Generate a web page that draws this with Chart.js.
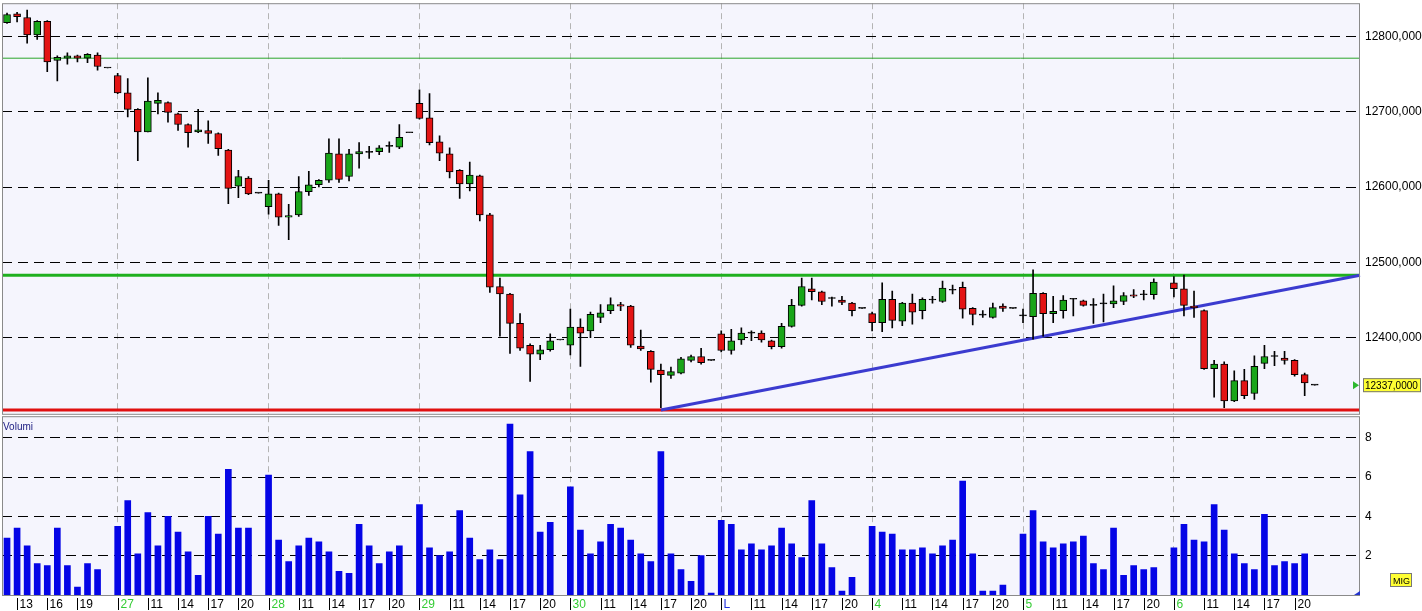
<!DOCTYPE html>
<html><head><meta charset="utf-8">
<script src="https://cdn.jsdelivr.net/npm/chart.js@4.4.0/dist/chart.umd.min.js"></script>
<style>
html,body{margin:0;padding:0;background:#fff;width:1422px;height:611px;overflow:hidden;position:relative}
canvas{position:absolute;left:0}
#p{top:-9px}#v{top:404px}
</style></head><body>
<canvas id="p" width="1422" height="435"></canvas>
<canvas id="v" width="1422" height="207"></canvas>
<script>
// ---- data ----
const openV=[12818,12830,12825,12802,12820,12768,12771,12774,12771,12775,12758,
12748,12725,12703,12673,12711,12712,12697,12683,12673,12675,12671,12649,12601,12612,12592,
12574,12591,12560,12563,12594,12603,12609,12644,12614,12644,12646,12647,12654,12653,12672,
12711,12692,12660,12644,12622,12604,12615,12563,12468,12458,12419,12390,12378,12384,12397,
12390,12414,12409,12427,12436,12444,12442,12389,12382,12357,12350,12353,12370,12375,12370,
12405,12383,12397,12406,12406,12396,12388,12415,12443,12465,12461,12452,12450,12446,12439,
12432,12420,12451,12422,12446,12436,12450,12448,12463,12467,12439,12430,12427,12442,12439,
12429,12428,12459,12432,12436,12451,12449,12443,12445,12445,12448,12457,12457,12457,null,
12473,12465,12442,12436,12359,12365,12316,12343,12326,12366,12375,12373,12370,12351,12337];
const highV=[12831,12832,12835,12821,12821,12774,12778,12775,12777,12778,12758,
12751,12744,12704,12745,12725,12713,12698,12684,12703,12688,12672,12650,12622,12614,12592,
12609,12592,12577,12614,12621,12610,12664,12664,12650,12659,12654,12655,12660,12683,12672,
12729,12724,12668,12652,12623,12633,12616,12565,12479,12459,12432,12392,12390,12405,12397,
12438,12425,12434,12444,12453,12447,12443,12410,12383,12365,12361,12374,12377,12386,12370,
12409,12411,12413,12409,12409,12397,12419,12451,12479,12479,12462,12454,12455,12447,12439,
12434,12473,12462,12447,12458,12453,12455,12475,12470,12474,12440,12436,12446,12445,12439,
12438,12490,12460,12455,12456,12452,12450,12452,12458,12469,12460,12464,12463,12478,null,
12481,12483,12462,12437,12370,12368,12356,12358,12376,12390,12382,12382,12371,12353,12337];
const lowV=[12817,12819,12791,12796,12753,12741,12763,12766,12765,12755,12758,
12724,12693,12635,12673,12697,12686,12675,12653,12672,12658,12642,12578,12586,12590,12592,
12564,12549,12530,12561,12589,12600,12606,12606,12608,12625,12638,12643,12646,12651,12672,
12690,12656,12635,12612,12585,12595,12555,12460,12402,12379,12383,12342,12371,12382,12397,
12377,12362,12400,12420,12432,12436,12387,12383,12341,12307,12346,12352,12368,12365,12370,
12381,12378,12391,12396,12394,12385,12386,12414,12442,12450,12444,12442,12444,12429,12439,
12409,12408,12413,12416,12418,12425,12446,12447,12458,12426,12417,12427,12426,12435,12439,
12420,12398,12402,12420,12426,12429,12442,12419,12421,12440,12444,12453,12450,12451,null,
12454,12429,12427,12358,12321,12307,12315,12319,12318,12359,12363,12365,12349,12323,12337];
const closeV=[12829,12826,12802,12820,12766,12772,12774,12771,12776,12760,12758,
12725,12703,12673,12714,12715,12699,12683,12672,12676,12671,12651,12598,12614,12591,12592,
12591,12560,12562,12594,12603,12609,12645,12610,12644,12647,12646,12652,12654,12666,12672,
12691,12659,12645,12620,12604,12616,12563,12467,12458,12419,12386,12378,12384,12396,12397,
12414,12406,12431,12433,12444,12442,12390,12385,12358,12351,12355,12372,12375,12367,12370,
12383,12396,12406,12406,12397,12388,12415,12443,12468,12461,12448,12452,12447,12436,12439,
12420,12451,12423,12446,12434,12451,12450,12466,12463,12438,12431,12430,12440,12439,12439,
12429,12459,12432,12435,12450,12451,12443,12443,12445,12449,12456,12455,12457,12474,null,
12465,12443,12440,12359,12365,12316,12343,12323,12362,12375,12375,12370,12351,12340,12337];
const volumeV=[2.9,3.4,2.5,1.6,1.5,3.4,1.5,0.4,1.6,1.3,null,
3.5,4.8,2.1,4.2,2.5,4.0,3.2,2.2,1.0,4.0,3.1,6.4,3.4,3.4,null,
6.1,2.8,1.7,2.5,2.9,2.7,2.2,1.2,1.1,3.6,2.5,1.6,2.2,2.5,null,
4.6,2.4,2.0,2.2,4.3,2.9,1.8,2.3,1.8,8.7,5.1,7.3,3.2,3.7,null,
5.5,3.3,2.1,2.7,3.6,3.4,2.8,2.1,1.7,7.3,2.1,1.3,0.7,2.0,0.1,
3.8,3.6,2.3,2.6,2.3,2.5,3.4,2.6,1.9,4.8,2.6,1.4,0.2,0.9,null,
3.5,3.2,3.1,2.3,2.3,2.4,2.1,2.5,2.8,5.8,2.1,0.2,0.2,0.5,null,
3.1,4.3,2.7,2.4,2.6,2.7,3.0,1.6,1.3,3.4,1.0,1.5,1.3,1.4,null,
2.4,3.6,2.8,2.7,4.6,3.3,2.1,1.6,1.3,4.1,1.5,1.7,1.6,2.1,null];
const dayNames=['27','28','29','30','L','4','5','6'];
const firstDayHours=['13','16','19'];
const hourLabels=['11','14','17','20'];
const priceTicks=[12400,12500,12600,12700,12800];
const volumeTicks=[2,4,6,8];
const supportLevel=12304, resistanceLevel=12483, thinLevel=12771, lastPrice=12337;
const trendStartSlot=65;

// ---- derived ----
const NSLOTS=135;
const labels=Array.from({length:NSLOTS},(_,i)=>String(i));
const dayStarts=dayNames.map((_,d)=>11+15*d);
const tickLabels=[];
firstDayHours.forEach((h,k)=>tickLabels.push({i:1+3*k,t:h,c:'#000'}));
dayNames.forEach((d,k)=>{const s=dayStarts[k];
 tickLabels.push({i:s,t:d,c:d==='L'?'#2233dd':'#33cc33'});
 hourLabels.forEach((h,j)=>tickLabels.push({i:s+3+3*j,t:h,c:'#000'}));});
const GREEN='#19a519',RED='#e31414',DOJI='#000';
const bodyCol=openV.map((o,i)=>o==null?'rgba(0,0,0,0)':closeV[i]>o?GREEN:closeV[i]<o?RED:DOJI);
const fmt=v=>v.toFixed(4).replace('.',',');
const FONT='Liberation Sans';

const areaBg={id:'areaBg',beforeDraw(c){const a=c.chartArea,x=c.ctx;x.save();x.fillStyle='#f5f5fd';x.fillRect(a.left,a.top,a.right-a.left,a.bottom-a.top);x.restore();},
 afterDraw(c){const a=c.chartArea,x=c.ctx;x.save();x.strokeStyle='#8a8a8a';x.lineWidth=1;x.strokeRect(a.left+0.5,a.top+0.5,a.right-a.left-1,a.bottom-a.top);x.restore();}};
const xGrid={offset:false,color:ctx=>dayStarts.includes(ctx.index)?'#b4b4b4':'rgba(0,0,0,0)',lineWidth:1,drawTicks:false};

const levels={id:'levels',beforeDatasetsDraw(c){const x=c.ctx,a=c.chartArea,ys=c.scales.y,xs=c.scales.x;x.save();
 const hl=(v,col,w)=>{const y=ys.getPixelForValue(v);x.strokeStyle=col;x.lineWidth=w;x.beginPath();x.moveTo(a.left,y);x.lineTo(a.right,y);x.stroke();};
 hl(thinLevel,'#2aa52a',1);hl(resistanceLevel,'#1fb01f',3);hl(supportLevel,'#e01010',3);
 x.strokeStyle='#3b3bcf';x.lineWidth=3;x.beginPath();x.moveTo(xs.getPixelForValue(trendStartSlot),ys.getPixelForValue(supportLevel));x.lineTo(a.right,ys.getPixelForValue(resistanceLevel));x.stroke();
 x.restore();},
 afterDraw(c){const x=c.ctx,a=c.chartArea,y=c.scales.y.getPixelForValue(lastPrice);x.save();
 x.fillStyle='#2db82d';x.beginPath();x.moveTo(a.right-7,y-4);x.lineTo(a.right-1,y);x.lineTo(a.right-7,y+4);x.fill();
 x.fillStyle='#ffff33';x.fillRect(a.right+3,y-7,58,14);x.strokeStyle='#777';x.strokeRect(a.right+3.5,y-6.5,57,13);
 x.fillStyle='#000';x.font='10px "'+FONT+'"';x.textBaseline='middle';x.fillText(fmt(lastPrice),a.right+5,y+1);x.restore();}};

new Chart(document.getElementById('p'),{type:'bar',
 data:{labels,datasets:[
  {data:openV.map((o,i)=>o==null?null:[lowV[i],highV[i]]),backgroundColor:'#000',barThickness:1,grouped:false,order:2},
  {data:openV.map((o,i)=>o==null?null:[o,closeV[i]]),backgroundColor:bodyCol,borderColor:'#000',borderWidth:1,borderSkipped:false,barThickness:7,minBarLength:1,grouped:false,order:1}]},
 options:{responsive:false,animation:false,devicePixelRatio:1,layout:{padding:{left:2,top:3,bottom:2,right:0}},
  plugins:{legend:{display:false},tooltip:{enabled:false}},
  scales:{x:{offset:true,grid:xGrid,border:{display:false,dash:[6,4]},ticks:{display:false}},
   y:{position:'right',min:12299,max:12844,afterBuildTicks:s=>{s.ticks=priceTicks.map(v=>({value:v}));},afterFit:s=>{s.width=62;},
    grid:{color:'#000',drawTicks:false},border:{display:false,dash:[10,6]},
    ticks:{padding:5,color:'#000',font:{family:FONT,size:12},callback:v=>fmt(v)}}}},
 plugins:[areaBg,levels]});

const volExtras={id:'volExtras',afterDraw(c){const x=c.ctx,a=c.chartArea,xs=c.scales.x;x.save();
 x.font='10px "'+FONT+'"';x.fillStyle='#1a1a80';x.textBaseline='top';x.fillText('Volumi',a.left+1,a.top+6);
 x.font='12px "'+FONT+'"';x.textBaseline='alphabetic';
 tickLabels.forEach(t=>{const px=Math.round(xs.getPixelForValue(t.i))+0.5;x.strokeStyle='#000';x.lineWidth=1;x.beginPath();x.moveTo(px,a.bottom+3);x.lineTo(px,a.bottom+15);x.stroke();
  x.fillStyle=t.c;x.fillText(t.t,px+2,a.bottom+13);});
 x.fillStyle='#ffff33';x.fillRect(a.right+30,a.bottom-22,22,14);x.strokeStyle='#777';x.strokeRect(a.right+30.5,a.bottom-21.5,21,13);
 x.fillStyle='#000';x.font='9px "'+FONT+'"';x.fillText('MIG',a.right+33,a.bottom-11);
 x.fillStyle='#2233cc';x.beginPath();x.moveTo(a.right-6,a.bottom);x.lineTo(a.right,a.bottom-4);x.lineTo(a.right,a.bottom);x.fill();
 x.restore();}};

new Chart(document.getElementById('v'),{type:'bar',
 data:{labels,datasets:[{data:volumeV,backgroundColor:'#0505e6',barThickness:6}]},
 options:{responsive:false,animation:false,devicePixelRatio:1,layout:{padding:{left:2,top:0,bottom:16,right:0}},
  plugins:{legend:{display:false},tooltip:{enabled:false}},
  scales:{x:{offset:true,grid:xGrid,border:{display:false,dash:[6,4]},ticks:{display:false}},
   y:{position:'right',min:0,max:9.1,afterBuildTicks:s=>{s.ticks=volumeTicks.map(v=>({value:v}));},afterFit:s=>{s.width=62;},
    grid:{color:'#000',drawTicks:false},border:{display:false,dash:[10,6]},
    ticks:{padding:5,color:'#000',font:{family:FONT,size:12}}}}},
 plugins:[areaBg,volExtras]});
</script></body></html>
